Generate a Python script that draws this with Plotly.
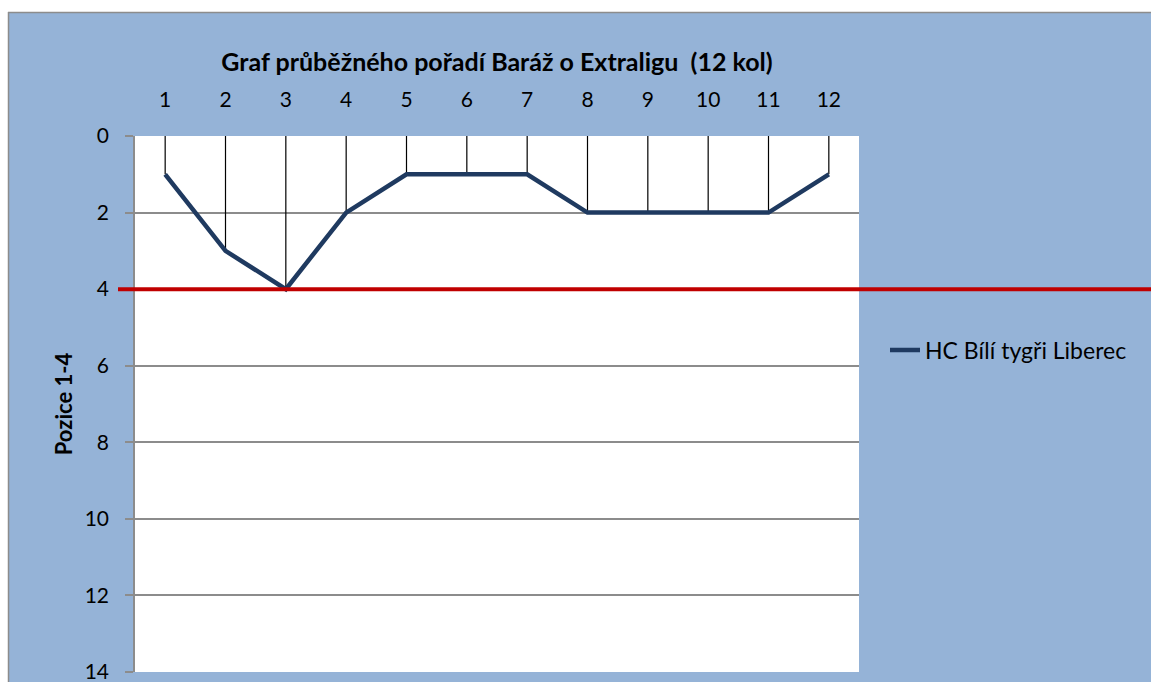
import plotly.graph_objects as go

rounds = list(range(1, 13))
positions = [1, 3, 4, 2, 1, 1, 1, 2, 2, 2, 2, 1]
series_name = "HC Bílí tygři Liberec"
title_text = "Graf průběžného pořadí Baráž o Extraligu  (12 kol)"
y_title = "Pozice 1-4"
threshold = 4
y_ticks = [0, 2, 4, 6, 8, 10, 12, 14]

W, H = 1151, 682
ML, MR, MT, MB = 135, 292, 136, 10
pw = W - ML - MR
ph = H - MT - MB


def px(x):
    """page x pixel -> paper fraction"""
    return (x - ML) / pw


def py(y):
    """page y pixel -> paper fraction"""
    return (H - MB - y) / ph


FONT = "Lato, Calibri, 'Open Sans', sans-serif"
BLUE = "#95B3D7"
GRID = "#8C8C8C"

# drop lines from 0 to the data points
dx, dy = [], []
for r, p in zip(rounds, positions):
    dx += [r, r, None]
    dy += [0, p, None]

fig = go.Figure()
fig.add_trace(go.Scatter(x=dx, y=dy, mode="lines", line=dict(color="black", width=1.2),
                         showlegend=False, hoverinfo="skip"))
fig.add_trace(go.Scatter(x=rounds, y=positions, mode="lines", name=series_name,
                         line=dict(color="#1F3A60", width=4.5)))

shapes = [
    # white page area above and left of the chart
    dict(type="rect", xref="paper", yref="paper", x0=px(-20), x1=px(1200), y0=py(12), y1=py(-20),
         fillcolor="white", line=dict(width=0), layer="below"),
    dict(type="rect", xref="paper", yref="paper", x0=px(-20), x1=px(8), y0=py(700), y1=py(-20),
         fillcolor="white", line=dict(width=0), layer="below"),
    # outer border of the chart (top and left only)
    dict(type="line", xref="paper", yref="paper", x0=px(8), x1=px(1200), y0=py(12.5), y1=py(12.5),
         line=dict(color=GRID, width=1.5), layer="above"),
    dict(type="line", xref="paper", yref="paper", x0=px(8.5), x1=px(8.5), y0=py(12), y1=py(700),
         line=dict(color=GRID, width=1.5), layer="above"),
    # threshold line
    dict(type="line", xref="paper", yref="y", x0=px(118), x1=px(1200), y0=threshold, y1=threshold,
         line=dict(color="#C00000", width=4), layer="above"),
]

fig.update_layout(
    width=W, height=H,
    autosize=False,
    margin=dict(l=ML, r=MR, t=MT, b=MB),
    paper_bgcolor=BLUE,
    plot_bgcolor="white",
    font=dict(family=FONT, size=21, color="black"),
    shapes=shapes,
    title=dict(text="<b>" + title_text + "</b>", x=497 / W, xanchor="center",
               y=1 - 62 / H, yanchor="middle", font=dict(size=25, family=FONT, color="black")),
    showlegend=True,
    legend=dict(x=px(885), xanchor="left", y=py(350), yanchor="middle",
                bgcolor="rgba(0,0,0,0)", font=dict(size=23, family=FONT)),
    xaxis=dict(range=[0.5, 12.5], side="top", tickvals=rounds, ticktext=[str(r) for r in rounds],
               showgrid=False, zeroline=False, showline=False, ticks="", ticklabelstandoff=24,
               automargin=False, tickfont=dict(size=21)),
    yaxis=dict(range=[14, 0], tickvals=y_ticks, showgrid=True, gridcolor=GRID, gridwidth=1.5,
               zeroline=False, showline=True, linecolor=GRID, linewidth=1.5,
               ticks="outside", ticklen=8, tickcolor=GRID, tickwidth=1.5,
               ticklabelstandoff=12, ticklabeloverflow="allow", tickfont=dict(size=21),
               automargin=False,
               title=dict(text="<b>" + y_title + "</b>", font=dict(size=22), standoff=6)),
)

fig.write_html("out.html", config={"displayModeBar": False},
               post_script="document.body.style.margin='0';document.body.style.overflow='hidden';")
